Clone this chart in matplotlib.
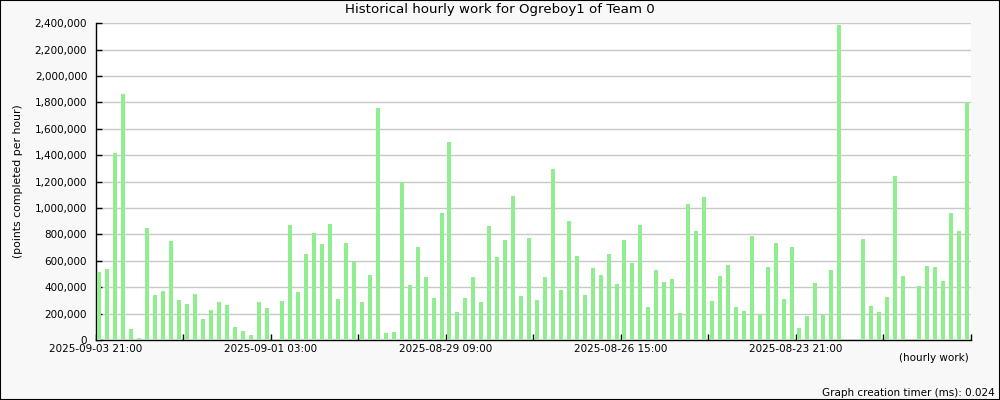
import matplotlib
matplotlib.use("Agg")
import numpy as np
from matplotlib import pyplot as plt
from matplotlib.patches import Rectangle

# hourly work per bar (thousands of points), newest on the left
work_k = [515, 538, 1416, 1863, 83, 15, 848, 341, 371, 750,
          303, 273, 348, 159, 227, 288, 265, 98, 68, 38,
          288, 242, 0, 295, 871, 364, 651, 811, 727, 879,
          311, 735, 591, 288, 492, 1757, 53, 61, 1197, 417,
          704, 477, 318, 962, 1500, 212, 318, 477, 288, 864,
          629, 758, 1091, 333, 773, 303, 477, 1295, 379, 901,
          636, 341, 545, 492, 651, 424, 758, 583, 871, 250,
          530, 439, 462, 205, 1030, 826, 1083, 295, 485, 568,
          250, 220, 788, 197, 553, 735, 311, 704, 91, 182,
          432, 189, 530, 2386, 0, 0, 765, 258, 212, 326,
          1242, 485, 0, 409, 561, 553, 447, 962, 826, 1803]
tick_labels = ["2025-09-03 21:00", "2025-09-01 03:00", "2025-08-29 09:00",
               "2025-08-26 15:00", "2025-08-23 21:00"]
yticks = list(range(0, 2400001, 200000))

work = np.array(work_k) * 1000
n = len(work)
pos = np.arange(n) + 0.5

fig = plt.figure(figsize=(10, 4), dpi=100, facecolor="#f8f8f8")
fig.patches.append(Rectangle((0, 0), 1, 1, transform=fig.transFigure,
                             fill=False, edgecolor="black", lw=1.5))
ax = fig.add_axes([0.0955, 0.15, 0.875, 0.7918])
ax.set_facecolor("white")
ax.bar(pos, work, width=0.5, color="#90ee90", zorder=3)
ax.set_xlim(0, n)
ax.set_ylim(0, 2400000)

ax.set_yticks(yticks)
ax.set_yticklabels(["{:,}".format(v) for v in yticks], fontsize=7.5)
ax.yaxis.grid(True, color="#c8c8c8", lw=1, zorder=0)

xt = list(range(0, n + 1, 11))
ax.set_xticks(xt)
ax.set_xticklabels([tick_labels[i // 2] if i % 2 == 0 and i // 2 < len(tick_labels) else ""
                    for i in range(len(xt))], fontsize=7.5)
ax.tick_params(direction="in", length=4, width=1)
ax.tick_params(axis="x", pad=3)
ax.tick_params(axis="y", pad=6)

for s in ["top", "right"]:
    ax.spines[s].set_visible(False)
for s in ["left", "bottom"]:
    ax.spines[s].set_linewidth(1)

fig.text(0.5, 0.975, "Historical hourly work for Ogreboy1 of Team 0",
         ha="center", va="center", fontsize=9.6)
fig.text(0.018, 0.546, "(points completed per hour)", rotation=90,
         ha="center", va="center", fontsize=7.8)
fig.text(0.969, 0.105, "(hourly work)", ha="right", va="center", fontsize=7.5)
fig.text(0.995, 0.0175, "Graph creation timer (ms): 0.024",
         ha="right", va="center", fontsize=7.5)

fig.savefig("out.png", dpi=100, facecolor=fig.get_facecolor())
